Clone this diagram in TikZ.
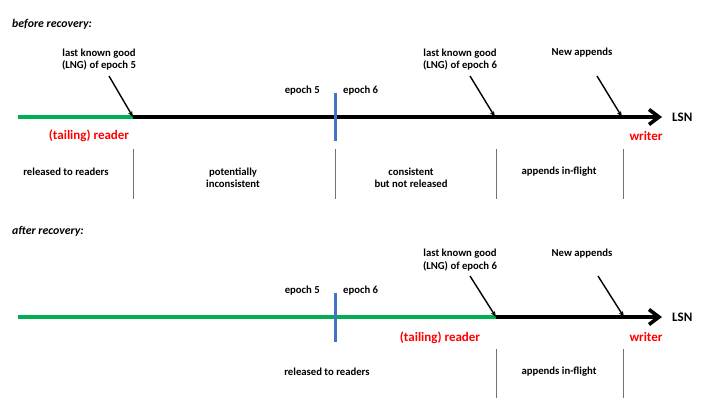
\documentclass[tikz,border=0pt]{standalone}
\usepackage{fontspec}
\setmainfont{Carlito}
\usetikzlibrary{arrows.meta}
\definecolor{lgreen}{HTML}{00B050}
\definecolor{eblue}{HTML}{4472C4}
\definecolor{lred}{HTML}{FF0000}
\begin{document}
\begin{tikzpicture}[x=1pt,y=-1pt,
  lbl/.style={font=\fontsize{10.7}{12.3}\selectfont\bfseries, align=center, inner sep=0pt},
  title/.style={font=\fontsize{11.8}{13}\selectfont\bfseries\itshape, anchor=west, inner sep=0pt},
  redlbl/.style={font=\fontsize{13}{15}\selectfont\bfseries, text=lred, inner sep=0pt},
  lsnlbl/.style={font=\fontsize{13}{15}\selectfont\bfseries, anchor=west, inner sep=0pt},
  axis/.style={line width=3.6pt, -{Straight Barb[length=10pt,width=15pt,line width=3.6pt]}},
  greenline/.style={line width=3.6pt, draw=lgreen},
  pointer/.style={line width=1.4pt, -{Stealth[length=6pt,width=4.5pt]}},
  epochline/.style={line width=3pt, draw=eblue},
  divider/.style={line width=1pt, draw=black!55},
]
\useasboundingbox (0,0) rectangle (720,405);

% ---------- before recovery ----------
\node[title] (t1) at (12,24) {before recovery:};

\coordinate (a0) at (18,117);
\coordinate (a1) at (133,117);
\coordinate (lngB) at (495,117);
\coordinate (newA) at (622,117);
\coordinate (a2) at (662,117);
\draw[axis] (a1) -- (a2);
\draw[greenline] (a0) -- (a1);

\coordinate (e1t) at (335,93);
\coordinate (e1b) at (335,141);
\draw[epochline] (e1t) -- (e1b);
\node[lbl, anchor=east] (ep5a) at (320,91) {epoch 5};
\node[lbl, anchor=west] (ep6a) at (343,91) {epoch 6};

\node[lbl] (lng5) at (99,59.5) {last known good\\(LNG) of epoch 5};
\coordinate (p1s) at (109,76);
\draw[pointer] (p1s) -- (a1);
\node[lbl] (lng6a) at (460,59.5) {last known good\\(LNG) of epoch 6};
\coordinate (p2s) at (470,76);
\draw[pointer] (p2s) -- (lngB);
\node[lbl] (newa) at (582,53) {New appends};
\coordinate (p3s) at (597,76);
\draw[pointer] (p3s) -- (newA);

\node[lsnlbl] (lsn1) at (672,117) {LSN};
\node[redlbl] (rd1) at (89,136) {(tailing) reader};
\node[redlbl] (wr1) at (646,136) {writer};

\foreach \x/\n in {133/d1,335/d2,496/d3,623/d4}{
  \coordinate (\n t) at (\x,149);
  \coordinate (\n b) at (\x,199);
  \draw[divider] (\n t) -- (\n b);
}
\node[lbl] (r1) at (66,172) {released to readers};
\node[lbl] (r2) at (233,178) {potentially\\inconsistent};
\node[lbl] (r3) at (411,178) {consistent\\but not released};
\node[lbl] (r4) at (559,172) {appends in-flight};

% ---------- after recovery ----------
\node[title] (t2) at (12,231) {after recovery:};

\coordinate (b0) at (18,317);
\coordinate (b1) at (496,317);
\coordinate (newB) at (624,317);
\coordinate (b2) at (662,317);
\draw[axis] (b1) -- (b2);
\draw[greenline] (b0) -- (b1);

\coordinate (e2t) at (335,293);
\coordinate (e2b) at (335,342);
\draw[epochline] (e2t) -- (e2b);
\node[lbl, anchor=east] (ep5b) at (320,291) {epoch 5};
\node[lbl, anchor=west] (ep6b) at (343,291) {epoch 6};

\node[lbl] (lng6b) at (460,260) {last known good\\(LNG) of epoch 6};
\coordinate (q1s) at (470,276);
\draw[pointer] (q1s) -- (b1);
\node[lbl] (newb) at (582,254) {New appends};
\coordinate (q2s) at (598,276);
\draw[pointer] (q2s) -- (newB);

\node[lsnlbl] (lsn2) at (672,317) {LSN};
\node[redlbl] (rd2) at (440,338) {(tailing) reader};
\node[redlbl] (wr2) at (646,337) {writer};

\foreach \x/\n in {496/f1,623/f2}{
  \coordinate (\n t) at (\x,349);
  \coordinate (\n b) at (\x,398);
  \draw[divider] (\n t) -- (\n b);
}
\node[lbl] (s1) at (327,372) {released to readers};
\node[lbl] (s2) at (559,372) {appends in-flight};
\end{tikzpicture}
\end{document}
